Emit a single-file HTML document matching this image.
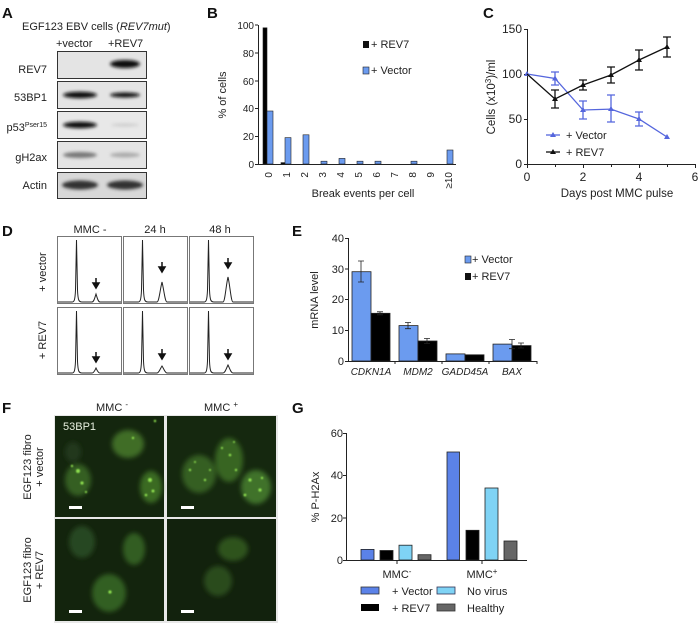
<!DOCTYPE html>
<html><head><meta charset="utf-8"><style>
html,body{margin:0;padding:0;background:#fff}
svg{display:block;font-family:"Liberation Sans",Arial,sans-serif}
</style></head><body>
<svg width="700" height="623" viewBox="0 0 700 623" xmlns="http://www.w3.org/2000/svg">
<defs>
<filter id="b1" x="-20%" y="-50%" width="140%" height="200%"><feGaussianBlur stdDeviation="1.6"/></filter>
<filter id="b2" x="-20%" y="-20%" width="140%" height="140%"><feGaussianBlur stdDeviation="2.5"/></filter>
<filter id="b3"><feGaussianBlur stdDeviation="0.7"/></filter>
</defs>
<g font-weight="bold" font-size="15" fill="#111">
<text x="2" y="18">A</text><text x="207" y="18">B</text><text x="483" y="18">C</text>
<text x="2" y="236">D</text><text x="292" y="236">E</text><text x="2" y="413">F</text><text x="292" y="413">G</text>
</g>
<!-- A -->
<g font-size="11" fill="#222">
<text x="22" y="30">EGF123 EBV cells  (<tspan font-style="italic">REV7mut</tspan>)</text>
<text x="56" y="47">+vector</text><text x="108" y="47">+REV7</text>
<g text-anchor="end">
<text x="47" y="73">REV7</text><text x="47" y="101">53BP1</text>
<text x="47" y="131">p53<tspan font-size="7" dy="-4">Pser15</tspan></text>
<text x="47" y="161">gH2ax</text><text x="47" y="189">Actin</text>
</g>
</g>
<g stroke="#333" stroke-width="1">
<rect x="57.5" y="51.5" width="89" height="27" fill="#e4e4e4"/>
<rect x="57.5" y="81.5" width="89" height="27" fill="#e4e4e4"/>
<rect x="57.5" y="111.5" width="89" height="27" fill="#e8e8e8"/>
<rect x="57.5" y="141.5" width="89" height="27" fill="#e4e4e4"/>
<rect x="57.5" y="172.5" width="89" height="26" fill="#d8d8d8"/>
</g>
<g filter="url(#b1)" fill="#111">
<ellipse cx="125" cy="64" rx="15" ry="4"/>
<ellipse cx="80" cy="95" rx="17" ry="3.2"/><ellipse cx="125" cy="95" rx="15" ry="2.5"/>
<ellipse cx="80" cy="125" rx="17" ry="3.2"/><ellipse cx="125" cy="125" rx="14" ry="1.5" fill="#ccc"/>
<ellipse cx="80" cy="155" rx="17" ry="3" fill="#777"/><ellipse cx="125" cy="155" rx="15" ry="2.5" fill="#aaa"/>
<ellipse cx="80" cy="185" rx="18" ry="4.5" fill="#333"/><ellipse cx="125" cy="185" rx="18" ry="4.5" fill="#333"/>
</g>
<!-- B -->
<g font-size="10" fill="#222">
<text transform="translate(226,95) rotate(-90)" text-anchor="middle" font-size="11">% of cells</text>
<g text-anchor="end"><text x="254" y="168">0</text><text x="254" y="140">20</text><text x="254" y="112">40</text><text x="254" y="85">60</text><text x="254" y="57">80</text><text x="254" y="29">100</text></g>
<g text-anchor="end">
<text transform="translate(272,172) rotate(-90)">0</text><text transform="translate(290,172) rotate(-90)">1</text><text transform="translate(308,172) rotate(-90)">2</text><text transform="translate(326,172) rotate(-90)">3</text><text transform="translate(344,172) rotate(-90)">4</text><text transform="translate(362,172) rotate(-90)">5</text><text transform="translate(380,172) rotate(-90)">6</text><text transform="translate(398,172) rotate(-90)">7</text><text transform="translate(416,172) rotate(-90)">8</text><text transform="translate(434,172) rotate(-90)">9</text><text transform="translate(452,172) rotate(-90)">≥10</text>
</g>
<text x="363" y="197" text-anchor="middle" font-size="11">Break events per cell</text>
<rect x="363" y="41" width="6" height="7" fill="#111"/><text x="371" y="48" font-size="11">+ REV7</text>
<rect x="363" y="67" width="6" height="7" fill="#6b9bef" stroke="#222" stroke-width="0.6"/><text x="371" y="74" font-size="11">+ Vector</text>
</g>
<g stroke="#222" stroke-width="1" fill="none">
<path d="M258.5 25 V164.5 H456"/>
<path d="M255 164.5h3M255 136.5h3M255 108.5h3M255 81h3M255 53h3M255 25h3"/>
</g>
<g stroke="#222" stroke-width="0.6">
<rect x="263" y="27.8" width="4" height="136.2" fill="#000"/>
<rect x="267" y="111" width="6" height="53" fill="#6b9bef"/>
<rect x="281" y="162.6" width="4" height="1.4" fill="#000"/>
<rect x="285" y="137.6" width="6" height="26.4" fill="#6b9bef"/>
<rect x="303" y="134.8" width="6" height="29.2" fill="#6b9bef"/>
<rect x="321" y="161.2" width="6" height="2.8" fill="#6b9bef"/>
<rect x="339" y="158.4" width="6" height="5.6" fill="#6b9bef"/>
<rect x="357" y="161.2" width="6" height="2.8" fill="#6b9bef"/>
<rect x="375" y="161.2" width="6" height="2.8" fill="#6b9bef"/>
<rect x="411" y="161.2" width="6" height="2.8" fill="#6b9bef"/>
<rect x="447" y="150" width="6" height="14" fill="#6b9bef"/>
</g>
<!-- C -->
<g font-size="12" fill="#222">
<g text-anchor="end"><text x="522" y="168">0</text><text x="522" y="123">50</text><text x="522" y="78">100</text><text x="522" y="33">150</text></g>
<g text-anchor="middle"><text x="527" y="181">0</text><text x="583" y="181">2</text><text x="639" y="181">4</text><text x="695" y="181">6</text></g>
<text x="617" y="197" text-anchor="middle" font-size="11.5">Days post MMC pulse</text>
<text transform="translate(495,97) rotate(-90)" text-anchor="middle" font-size="11.5">Cells (x10<tspan font-size="8" dy="-4">3</tspan><tspan dy="4">)/ml</tspan></text>
</g>
<g stroke="#222" stroke-width="1" fill="none">
<path d="M527.5 29 V164.5 H695"/>
<path d="M524 164.5h3M524 119.5h3M524 74.5h3M524 29.5h3M527.5 164v4M555.5 164v3M583.5 164v4M611.5 164v3M639.5 164v4M667.5 164v3M695.5 164v4"/>
</g>
<g stroke="#5566dd" stroke-width="1.3" fill="none">
<polyline points="527,74 555,78.5 583,110 611,109.1 639,119 667,137"/>
<path d="M555 72v13M551 72h8M551 85h8M583 101v18M579 101h8M579 119h8M611 95v27M607 95h8M607 122h8M639 112v14M635 112h8M635 126h8"/>
<path d="M546 135H560"/>
</g>
<g fill="#5566dd"><path d="M527 71l3 5h-6zM555 75.5l3 5h-6zM583 107l3 5h-6zM611 106l3 5h-6zM639 116l3 5h-6zM667 134l3 5h-6zM553 132l3 5h-6z"/></g>
<g stroke="#111" stroke-width="1.3" fill="none">
<polyline points="527,74 555,99 583,85 611,75 639,60 667,47"/>
<path d="M555 90v18M551 90h8M551 108h8M583 80v10M579 80h8M579 90h8M611 67v16M607 67h8M607 83h8M639 50v20M635 50h8M635 70h8M667 37v20M663 37h8M663 57h8"/>
<path d="M546 152H560"/>
</g>
<g fill="#111"><path d="M555 96l3 5h-6zM583 82l3 5h-6zM611 72l3 5h-6zM639 57l3 5h-6zM667 44l3 5h-6zM553 149l3 5h-6z"/></g>
<g font-size="11" fill="#222"><text x="566" y="139">+ Vector</text><text x="566" y="156">+ REV7</text></g>
<!-- D -->
<g font-size="11" fill="#222" text-anchor="middle">
<text x="90" y="233">MMC -</text><text x="155" y="233">24 h</text><text x="220" y="233">48 h</text>
<text transform="translate(46,272) rotate(-90)">+ vector</text>
<text transform="translate(46,340) rotate(-90)">+ REV7</text>
</g>
<g stroke="#777" stroke-width="1" fill="#fff">
<rect x="57.5" y="236.5" width="64" height="67"/><rect x="123.5" y="236.5" width="64" height="67"/><rect x="189.5" y="236.5" width="64" height="67"/>
<rect x="57.5" y="307.5" width="64" height="67"/><rect x="123.5" y="307.5" width="64" height="67"/><rect x="189.5" y="307.5" width="64" height="67"/>
</g>
<g stroke="#222" stroke-width="1" fill="none">
<path d="M58 302 L72 302 C74 302 75 301 75.5 290 L76.5 240 L77.5 290 C78 301 79 302 82 302 L92 302 C94 302 95 297 96 294 C97 297 98 302 100 302 L121 302"/>
<path d="M124 302 L138 302 C140 302 141 301 141.5 290 L142.5 240 L143.5 290 C144 301 145 302 148 302 L157 302 C159 302 160 290 162 282 C164 290 165 302 167 302 L187 302"/>
<path d="M190 302 L204 302 C206 302 207 301 207.5 290 L208.5 240 L209.5 290 C210 301 211 302 214 302 L223 302 C225 302 226 285 228 277 C230 285 231 302 233 302 L253 302"/>
<path d="M58 373 L72 373 C74 373 75 372 75.5 361 L76.5 311 L77.5 361 C78 372 79 373 82 373 L92 373 C94 373 95 370 96 368 C97 370 98 373 100 373 L121 373"/>
<path d="M124 373 L138 373 C140 373 141 372 141.5 361 L142.5 311 L143.5 361 C144 372 145 373 148 373 L157 373 C159 373 160 369 162 366 C164 369 165 373 167 373 L187 373"/>
<path d="M190 373 L204 373 C206 373 207 372 207.5 361 L208.5 311 L209.5 361 C210 372 211 373 214 373 L223 373 C225 373 226 369 228 365 C230 369 231 373 233 373 L253 373"/>
</g>
<g stroke="#111" stroke-width="1.5" fill="#111">
<path d="M96 278v6" /><path d="M93 283h6l-3 5z"/>
<path d="M162 262v6"/><path d="M159 267h6l-3 5z"/>
<path d="M228 258v6"/><path d="M225 263h6l-3 5z"/>
<path d="M96 352v6"/><path d="M93 357h6l-3 5z"/>
<path d="M162 349v6"/><path d="M159 354h6l-3 5z"/>
<path d="M228 349v6"/><path d="M225 354h6l-3 5z"/>
</g>
<!-- E -->
<g font-size="11" fill="#222">
<g text-anchor="end"><text x="344" y="365">0</text><text x="344" y="334">10</text><text x="344" y="303">20</text><text x="344" y="273">30</text><text x="344" y="242">40</text></g>
<text transform="translate(318,300) rotate(-90)" text-anchor="middle">mRNA level</text>
<g font-style="italic" font-size="10" text-anchor="middle"><text x="371" y="375">CDKN1A</text><text x="418" y="375">MDM2</text><text x="465" y="375">GADD45A</text><text x="512" y="375">BAX</text></g>
<rect x="465" y="256" width="6" height="7" fill="#6b9bef" stroke="#222" stroke-width="0.6"/><text x="472" y="263">+ Vector</text>
<rect x="465" y="273" width="6" height="7" fill="#111"/><text x="472" y="280">+ REV7</text>
</g>
<g stroke="#222" stroke-width="1" fill="none"><path d="M348.5 238V361.5H537M345 361.5h3M345 330.5h3M345 299.5h3M345 269h3M345 238.5h3M395 361v3M442 361v3M489 361v3M537 361v3"/></g>
<g stroke="#222" stroke-width="0.8">
<rect x="352" y="271.7" width="19" height="89.3" fill="#6b9bef"/><rect x="371" y="313.3" width="19" height="47.7" fill="#000"/>
<rect x="399" y="325.6" width="19" height="35.4" fill="#6b9bef"/><rect x="418" y="341" width="19" height="20" fill="#000"/>
<rect x="446" y="353.9" width="19" height="7.1" fill="#6b9bef"/><rect x="465" y="354.8" width="19" height="6.2" fill="#000"/>
<rect x="493" y="344.1" width="19" height="16.9" fill="#6b9bef"/><rect x="512" y="345.6" width="19" height="15.4" fill="#000"/>
<path fill="none" d="M361 261v21M358 261h6M358 282h6M380 311.8v3M377 311.8h6M377 314.8h6M408 322.5v6.2M405 322.5h6M405 328.7h6M427 338.5v5M424 338.5h6M424 343.5h6M512 339.5v9.2M509 339.5h6M509 348.7h6M521 343v5M518 343h6M518 348h6"/>
</g>
<!-- F -->
<g font-size="11" fill="#222" text-anchor="middle">
<text x="112" y="411">MMC <tspan font-size="8" dy="-4">-</tspan></text>
<text x="221" y="411">MMC <tspan font-size="8" dy="-4">+</tspan></text>
<text transform="translate(31,467) rotate(-90)">EGF123 fibro</text><text transform="translate(43,467) rotate(-90)">+ vector</text>
<text transform="translate(31,570) rotate(-90)">EGF123 fibro</text><text transform="translate(43,570) rotate(-90)">+ REV7</text>
</g>
<rect x="54" y="415" width="224" height="208" fill="#e8e8e8"/>
<rect x="55" y="416" width="109" height="101" fill="#14260e"/>
<rect x="167" y="416" width="109" height="101" fill="#15280f"/>
<rect x="55" y="519" width="109" height="102" fill="#13240d"/>
<rect x="167" y="519" width="109" height="102" fill="#12220d"/>
<g filter="url(#b2)">
<ellipse cx="128" cy="444" rx="16" ry="14" fill="#3f6d26"/>
<ellipse cx="78" cy="480" rx="13" ry="16" fill="#355f21"/>
<ellipse cx="151" cy="487" rx="11" ry="16" fill="#3a6b23"/>
<ellipse cx="73" cy="452" rx="8" ry="10" fill="#22391a"/>
<ellipse cx="199" cy="474" rx="17" ry="19" fill="#345f22"/>
<ellipse cx="229" cy="460" rx="14" ry="22" fill="#386524"/>
<ellipse cx="256" cy="487" rx="15" ry="17" fill="#3f722a"/>
<ellipse cx="82" cy="542" rx="13" ry="16" fill="#284620"/>
<ellipse cx="134" cy="549" rx="11" ry="16" fill="#335d21"/>
<ellipse cx="109" cy="593" rx="17" ry="19" fill="#335e22"/>
<ellipse cx="233" cy="549" rx="15" ry="12" fill="#2e521f"/>
<ellipse cx="218" cy="581" rx="14" ry="15" fill="#2a4c1d"/>
</g>
<g fill="#8fe050" filter="url(#b3)">
<circle cx="78" cy="471" r="2"/><circle cx="82" cy="483" r="1.6"/><circle cx="150" cy="480" r="2"/><circle cx="153" cy="491" r="1.5"/><circle cx="146" cy="495" r="1.3"/><circle cx="133" cy="438" r="1.2"/><circle cx="155" cy="421" r="1.2"/><circle cx="72" cy="466" r="1.2"/><circle cx="86" cy="492" r="1.1"/>
<circle cx="190" cy="470" r="1.2"/><circle cx="205" cy="480" r="1.2"/><circle cx="230" cy="455" r="1.3"/><circle cx="236" cy="470" r="1.2"/><circle cx="250" cy="480" r="1.6"/><circle cx="260" cy="490" r="1.6"/><circle cx="245" cy="495" r="1.4"/><circle cx="222" cy="448" r="1.1"/><circle cx="195" cy="462" r="1"/><circle cx="210" cy="470" r="1"/><circle cx="262" cy="478" r="1.2"/><circle cx="234" cy="442" r="1"/>
<circle cx="110" cy="592" r="1.6"/>
</g>
<text x="63" y="430" font-size="11" fill="#e8f0e0">53BP1</text>
<g fill="#fff"><rect x="69" y="506" width="13" height="3"/><rect x="181" y="506" width="13" height="3"/><rect x="69" y="610" width="13" height="3"/><rect x="181" y="610" width="13" height="3"/></g>
<!-- G -->
<g font-size="11" fill="#222">
<g text-anchor="end"><text x="343" y="564">0</text><text x="343" y="522">20</text><text x="343" y="479">40</text><text x="343" y="437">60</text></g>
<text transform="translate(319,497) rotate(-90)" text-anchor="middle">% P-H2Ax</text>
<text x="397" y="578" text-anchor="middle">MMC<tspan font-size="8" dy="-4">-</tspan></text>
<text x="482" y="578" text-anchor="middle">MMC<tspan font-size="8" dy="-4">+</tspan></text>
<rect x="361" y="587" width="18" height="7" fill="#5b82e8" stroke="#333" stroke-width="0.8"/><text x="392" y="595">+ Vector</text>
<rect x="361" y="604" width="18" height="7" fill="#000"/><text x="392" y="612">+ REV7</text>
<rect x="437" y="587" width="18" height="7" fill="#7fd3f5" stroke="#335" stroke-width="0.8"/><text x="467" y="595">No virus</text>
<rect x="437" y="604" width="18" height="7" fill="#666" stroke="#333" stroke-width="0.8"/><text x="467" y="612">Healthy</text>
</g>
<g stroke="#222" stroke-width="1" fill="none"><path d="M346.5 433V560.5H527M343 560.5h3M343 518h3M343 475.5h3M343 433.5h3M397 560v4M482 560v4"/></g>
<g stroke="#222" stroke-width="0.8">
<rect x="361" y="549.4" width="13" height="10.6" fill="#5b82e8"/><rect x="380" y="550.5" width="13" height="9.5" fill="#000"/>
<rect x="399" y="545.2" width="13" height="14.8" fill="#7fd3f5"/><rect x="418" y="554.7" width="13" height="5.3" fill="#666"/>
<rect x="447" y="452" width="12.5" height="108" fill="#5b82e8"/><rect x="466" y="530.3" width="13" height="29.7" fill="#000"/>
<rect x="485" y="488" width="13" height="72" fill="#7fd3f5"/><rect x="504" y="541" width="13" height="19" fill="#666"/>
</g>
</svg>
</body></html>
